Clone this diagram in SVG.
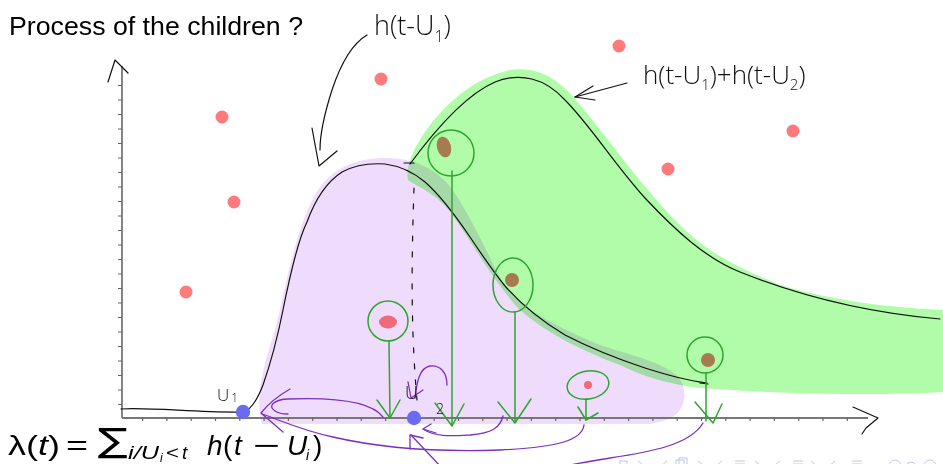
<svg xmlns="http://www.w3.org/2000/svg" width="943" height="464" viewBox="0 0 943 464">
<defs>
<style>
.hand{fill:none;stroke:#111;stroke-width:1.2;stroke-linecap:round;stroke-linejoin:round}
.pur{fill:none;stroke:#7a2fc0;stroke-width:1.3;stroke-linecap:round;stroke-linejoin:round}
.grn{fill:none;stroke:#2ea52e;stroke-width:1.5;stroke-linecap:round;stroke-linejoin:round}
.red{fill:#ff7b7b}
.blue{fill:#6b6bef}
.brown{fill:#a87a50}
.pink{fill:#ef6b7a}
.hw{font-family:"Open Sans","DejaVu Sans",sans-serif;font-weight:300;fill:#111}
.m{font-family:"Liberation Sans","DejaVu Sans",sans-serif;fill:#000}
.nav{fill:none;stroke:#c4c4ea;stroke-width:1}
</style>
</defs>
<rect width="943" height="464" fill="#fff"/>

<g id="blobs">
<path id="blob-h1" fill="#efdcfd" d="M262,424 C255,400 262,370 275,330 C285,290 295,230 315,195 C330,170 350,160 380,158 C410,157 430,165 448,184 C466,207 482,242 502,282 C518,308 560,328 600,345 C640,358 675,365 683,385 C688,405 680,420 650,424 Z"/>
<path id="blob-h2" fill="#b0fca8" style="mix-blend-mode:multiply" d="M408,180 C405,165 415,145 430,125 C450,100 475,78 510,70 C540,66 560,80 580,105 C610,140 640,185 680,225 C710,255 740,268 780,285 C830,300 890,308 943,310 L943,392 C880,396 780,394 700,388 C670,385 640,375 620,365 C580,350 540,330 515,305 C490,275 470,240 452,214 C437,194 420,188 408,180 Z"/>
</g>

<g id="axes">
<line x1="122" y1="66" x2="122" y2="418" stroke="#666" stroke-width="1.6"/>
<line x1="120" y1="85" x2="120" y2="410" stroke="#666" stroke-width="4" stroke-dasharray="1 13.5"/>
<line x1="122" y1="418" x2="868" y2="418" stroke="#777" stroke-width="2"/>
<line x1="130" y1="419.5" x2="860" y2="419.5" stroke="#666" stroke-width="3" stroke-dasharray="1.2 23.1" stroke-dashoffset="-12"/>
<path class="hand" d="M108,82 L115,60 L128,73"/>
<path class="hand" d="M853,407 L878,418 L866,428 L862,434"/>
</g>

<g id="curves">
<path class="hand" d="M121,409 C150,407 200,413 243,412 C252,410 258,398 263,385 C270,365 276,345 283,310 C290,275 298,240 307,222 C315,200 325,183 342,172 C355,165 370,163 385,164 C400,166 413,172 425,182 C440,195 455,215 470,237 C482,255 492,270 505,286 C520,303 540,320 565,335 C590,348 615,358 645,368 C670,376 690,381 707,383"/>
<path class="hand" d="M700,383 L708,384"/>
<path class="hand" d="M404,163 L414,163"/>
<path class="hand" d="M410,164 C435,130 465,95 495,82 C520,72 545,78 565,100 C590,125 615,165 645,198 C675,230 705,258 740,272 C790,292 860,312 940,319"/>
<path class="hand" d="M414,188 C412,250 410,320 417,400" stroke-dasharray="5 11"/>
</g>

<g id="points">
<circle class="red" cx="619" cy="46" r="6.5"/>
<circle class="red" cx="381" cy="79" r="6.5"/>
<circle class="red" cx="222" cy="117" r="6.5"/>
<circle class="red" cx="793" cy="131" r="6.5"/>
<circle class="red" cx="668" cy="169" r="6.5"/>
<circle class="red" cx="234" cy="202" r="6.5"/>
<circle class="red" cx="186" cy="292" r="6.5"/>
<circle class="blue" cx="243" cy="412" r="7.2"/>
<circle class="blue" cx="414" cy="418" r="7.2"/>
</g>

<g id="children">
<g id="child1">
<circle class="grn" cx="451" cy="153" r="23"/>
<ellipse class="brown" cx="444" cy="147" rx="7" ry="10.5" transform="rotate(-15 444 147)"/>
<path class="grn" d="M452,171 L452,425"/>
<path class="grn" d="M435,403 L452,426 L464,404"/>
</g>
<g id="child2">
<ellipse class="grn" cx="513" cy="285" rx="20" ry="27"/>
<circle class="brown" cx="512" cy="280" r="7"/>
<path class="grn" d="M515,312 L515,422"/>
<path class="grn" d="M498,402 L515,423 L531,399"/>
</g>
<g id="child3">
<circle class="grn" cx="388" cy="321" r="20"/>
<ellipse class="pink" cx="388" cy="322" rx="9" ry="6.5"/>
<path class="grn" d="M389,341 L390,418"/>
<path class="grn" d="M377,400 L390,418 L400,400"/>
</g>
<g id="child4">
<ellipse class="grn" cx="588" cy="385" rx="21" ry="14" transform="rotate(-10 588 385)"/>
<circle class="pink" cx="588" cy="385" r="4"/>
<path class="grn" d="M586,399 L586,420"/>
<path class="grn" d="M578,407 L586,420 L598,413"/>
</g>
<g id="child5">
<circle class="grn" cx="705" cy="355" r="18"/>
<circle class="brown" cx="708" cy="360" r="7"/>
<path class="grn" d="M706,373 L706,421"/>
<path class="grn" d="M695,402 L713,423 L722,404"/>
</g>
</g>

<g id="connectors">
<path class="pur" d="M383,417 C372,402 335,397 287,399 C274,400 267,406 275,411 C279,414 285,414 288,414"/>
<path class="pur" d="M584,425 C582,440 560,447 500,450 C440,452 380,448 333,437 C300,430 280,420 262,414"/>
<path class="pur" d="M290,389 C278,396 268,404 261,413 L283,432"/>
<path class="pur" d="M503,416 C500,428 492,433 470,435 C450,436 435,437 423,429"/>
<path class="pur" d="M431,424 L423,429 L436,433"/>
<path class="pur" d="M703,423 C690,445 650,452 610,458 C580,463 560,466 540,472"/>
<path class="pur" d="M442,468 L411,435"/>
<path class="pur" d="M410,449 L410,435 L423,438"/>
<path class="pur" d="M447,385 C447,372 440,365 430,366 C420,368 417,380 415,398"/>
<path class="pur" d="M408,382 L411,398 L423,390"/>
<path class="hand" d="M367,35 C355,42 342,60 332,90 C324,115 320,135 320,150"/>
<path class="hand" d="M312,128 L319,166 L337,151"/>
<path class="hand" d="M627,83 L575,97"/>
<path class="hand" d="M593,86 L575,97 L595,100"/>
</g>

<g id="labels">
<text class="m" x="9" y="35" font-size="26.5" textLength="294" lengthAdjust="spacingAndGlyphs">Process of the children ?</text>
<text class="hw" x="374" y="35" font-size="27">h(t-U<tspan font-size="16" dy="7">1</tspan><tspan dy="-7">)</tspan></text>
<text class="hw" x="643" y="84" font-size="26">h(t-U<tspan font-size="15" dy="6">1</tspan><tspan dy="-6">)+h(t-U</tspan><tspan font-size="15" dy="6">2</tspan><tspan dy="-6">)</tspan></text>
<text class="hw" x="217" y="401" font-size="17">U<tspan font-size="12" dx="2" dy="1">1</tspan></text>
<text class="hw" x="405" y="399" font-size="18">U</text>
<text class="hw" x="436" y="414" font-size="14">2</text>
</g>

<g id="formula" class="m">
<text x="8" y="455" font-size="28" textLength="52" lengthAdjust="spacingAndGlyphs">λ(<tspan font-style="italic">t</tspan>)</text>
<text x="66" y="455" font-size="28" textLength="22" lengthAdjust="spacingAndGlyphs">=</text>
<text x="98" y="452" font-size="33" font-family="DejaVu Sans,sans-serif" textLength="30" lengthAdjust="spacingAndGlyphs">∑</text>
<text x="128" y="459" font-size="19" font-style="italic" textLength="31" lengthAdjust="spacingAndGlyphs">i/U</text>
<text x="160" y="462" font-size="12" font-style="italic">i</text>
<text x="166" y="459" font-size="19" textLength="13" lengthAdjust="spacingAndGlyphs">&lt;</text>
<text x="182" y="459" font-size="19" font-style="italic">t</text>
<text x="207" y="455" font-size="28" font-style="italic">h</text>
<text x="223" y="455" font-size="28">(</text>
<text x="234" y="455" font-size="28" font-style="italic">t</text>
<text x="253" y="455" font-size="28" textLength="27" lengthAdjust="spacingAndGlyphs">−</text>
<text x="287" y="455" font-size="28" font-style="italic">U</text>
<text x="306" y="460" font-size="14" font-style="italic">i</text>
<text x="313" y="455" font-size="28">)</text>
</g>

<g id="nav">
<rect class="nav" x="620" y="461" width="7" height="7"/>
<path class="nav" d="M638,461 L643,465 M667,461 L662,465"/>
<rect class="nav" x="676" y="460" width="8" height="8"/>
<rect class="nav" x="679" y="458" width="8" height="8"/>
<path class="nav" d="M698,461 L703,465 M722,461 L717,465"/>
<path class="nav" d="M735,461 L745,461 M735,464 L745,464"/>
<path class="nav" d="M755,461 L760,465 M780,461 L775,465"/>
<path class="nav" d="M793,461 L803,461 M793,464 L803,464"/>
<path class="nav" d="M811,461 L816,465 M835,461 L830,465"/>
<path class="nav" d="M852,461 L862,461 M852,464 L862,464"/>
<circle class="nav" cx="895" cy="466" r="6"/>
<circle class="nav" cx="911" cy="466" r="4"/>
<circle class="nav" cx="930" cy="466" r="6"/>
</g>
</svg>
